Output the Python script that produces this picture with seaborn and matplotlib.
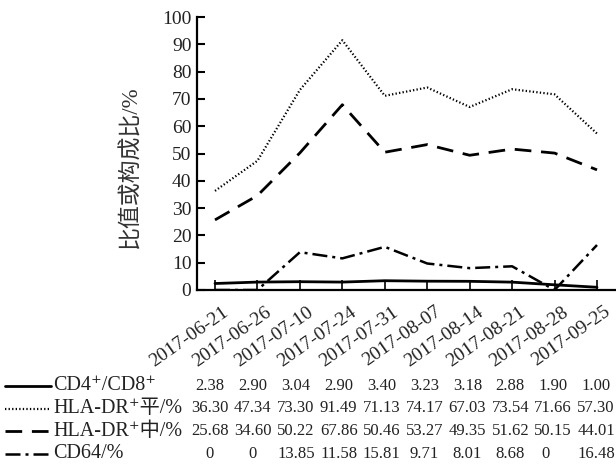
import matplotlib
matplotlib.use("Agg")
import matplotlib.pyplot as plt
import matplotlib.transforms as mtransforms
import seaborn as sns
import pandas as pd
from matplotlib.lines import Line2D

dates = ["2017-06-21", "2017-06-26", "2017-07-10", "2017-07-24", "2017-07-31",
         "2017-08-07", "2017-08-14", "2017-08-21", "2017-08-28", "2017-09-25"]
cd4_cd8 = [2.38, 2.90, 3.04, 2.90, 3.40, 3.23, 3.18, 2.88, 1.90, 1.00]
hla_ping = [36.30, 47.34, 73.30, 91.49, 71.13, 74.17, 67.03, 73.54, 71.66, 57.30]
hla_zhong = [25.68, 34.60, 50.22, 67.86, 50.46, 53.27, 49.35, 51.62, 50.15, 44.01]
cd64 = [0, 0, 13.85, 11.58, 15.81, 9.71, 8.01, 8.68, 0, 16.48]

cd4_txt = ["2.38", "2.90", "3.04", "2.90", "3.40", "3.23", "3.18", "2.88", "1.90", "1.00"]
ping_txt = ["36.30", "47.34", "73.30", "91.49", "71.13", "74.17", "67.03", "73.54", "71.66", "57.30"]
zhong_txt = ["25.68", "34.60", "50.22", "67.86", "50.46", "53.27", "49.35", "51.62", "50.15", "44.01"]
cd64_txt = ["0", "0", "13.85", "11.58", "15.81", "9.71", "8.01", "8.68", "0", "16.48"]

series_names = ["CD4⁺/CD8⁺", "HLA-DR⁺平/%", "HLA-DR⁺中/%", "CD64/%"]
y_ticks = [0, 10, 20, 30, 40, 50, 60, 70, 80, 90, 100]
y_label = "比值或构成比/%"

sns.set_theme(style="ticks")
plt.rcParams["font.family"] = ["Liberation Serif", "DejaVu Serif", "Noto Sans CJK SC"]

W, H = 616, 468
fig = plt.figure(figsize=(W / 100, H / 100), dpi=100)
ax = fig.add_axes([197 / W, 1 - 290 / H, (615 - 197) / W, (290 - 17) / H])

styles = [
    dict(linestyle="-", linewidth=2.0),
    dict(linestyle=(0, (0.6, 1.0)), linewidth=1.6),
    dict(linestyle=(0, (6, 3.5)), linewidth=2.0),
    dict(linestyle=(0, (6, 2, 1.2, 2)), linewidth=1.8),
]
all_series = [cd4_cd8, hla_ping, hla_zhong, cd64]
for vals, st in zip(all_series, styles):
    df = pd.DataFrame({"date": dates, "value": vals})
    sns.lineplot(data=df, x="date", y="value", ax=ax, color="black", sort=False, **st)

ax.set_xlim(-0.424, 9.424)
ax.set_ylim(0, 100)
ax.set_yticks(y_ticks)
ax.set_xticks(range(len(dates)))
ax.tick_params(axis="y", direction="in", length=6, width=1.5, labelsize=14, pad=4, colors="black")
ax.tick_params(axis="x", direction="in", length=7, width=1.2, pad=6, colors="black")
ax.set_xticklabels(dates, rotation=35, ha="right", rotation_mode="anchor", fontsize=14)
offset = mtransforms.ScaledTranslation(7 / 100, -5 / 100, fig.dpi_scale_trans)
for lab in ax.get_xticklabels():
    lab.set_transform(lab.get_transform() + offset)
for lab in ax.get_yticklabels() + ax.get_xticklabels():
    lab.set_color("#222222")
ax.set_xlabel("")
ax.set_ylabel(y_label, fontsize=16.5, color="#333333")
ax.yaxis.set_label_coords(-(197 - 142) / (615 - 197), 0.45)
for s in ["top", "right"]:
    ax.spines[s].set_visible(False)
ax.spines["left"].set_linewidth(1.6)
ax.spines["bottom"].set_linewidth(1.6)
ax.spines["left"].set_color("black")
ax.spines["bottom"].set_color("black")

# table below
row_y = [386, 408.5, 431, 454]
col_x = [210 + 42.9 * i for i in range(10)]
texts = [cd4_txt, ping_txt, zhong_txt, cd64_txt]
for r, (name, st, txts) in enumerate(zip(series_names, styles, texts)):
    yy = 1 - row_y[r] / H
    fig.add_artist(Line2D([5 / W, 51 / W], [yy, yy], color="black",
                          transform=fig.transFigure, **st))
    fig.text(53 / W, yy, name, fontsize=14.5, va="center", ha="left", color="#222222")
    for c, t in enumerate(txts):
        xx = col_x[c]
        if r == 3 and c == 8:
            xx -= 8
        fig.text(xx / W, yy, t, fontsize=12, va="center", ha="center", color="#222222")

fig.savefig("out.png", dpi=100)
